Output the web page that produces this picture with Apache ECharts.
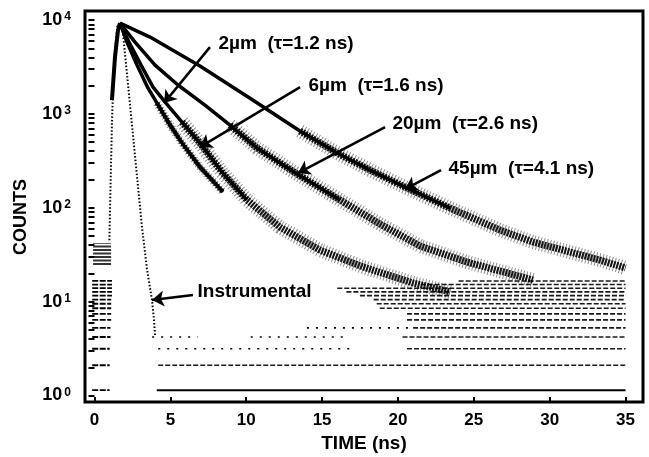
<!DOCTYPE html>
<html>
<head>
<meta charset="utf-8">
<script src="https://cdn.jsdelivr.net/npm/echarts@6.0.0/dist/echarts.min.js"></script>
<style>
html, body { margin: 0; padding: 0; background: #fff; }
#decay { width: 649px; height: 457px; }
</style>
</head>
<body>
<div id="decay"></div>
<script>
// values (time in ns, counts)
var t2um = [1.68, 2.14, 2.80, 3.53, 4.12, 4.98, 5.77, 6.95, 7.75, 8.47];
var c2um = [9270, 5820, 3310, 1880, 1300, 760, 489, 272, 197, 147];
var t6um = [1.68, 2.27, 3.07, 3.86, 4.71, 5.77, 6.95, 8.40, 10.05, 12.23, 14.86, 17.70, 21.00, 23.44];
var c6um = [9270, 5820, 3310, 1930, 1300, 818, 489, 240, 121, 62, 35.4, 23.4, 15.8, 12.7];
var t20um = [1.68, 2.67, 3.99, 5.50, 7.28, 8.93, 10.71, 13.35, 16.18, 18.82, 21.46, 24.55, 28.90];
var c20um = [9270, 5820, 3310, 2030, 1240, 760, 433, 229, 121, 67, 39.1, 26.4, 17.0];
var t45um = [1.68, 3.66, 6.95, 10.25, 13.54, 15.99, 18.16, 20.60, 23.44, 26.73, 28.90, 33.32, 35.00];
var c45um = [9270, 6580, 3230, 1470, 656, 383, 252, 162, 99, 57.8, 43.1, 27.7, 22.8];

var tInst = [0.98, 1.05, 1.15, 1.30, 1.50, 1.81, 2.34, 2.80, 3.13, 3.46, 3.79, 3.92, 3.99];
var cInst = [45, 150, 800, 4000, 8500, 9270, 1253, 218, 62.3, 22.2, 10.4, 6.4, 4.4];
var tRise = [1.15, 1.35, 1.55, 1.68];
var cRise = [1400, 4000, 7800, 9270];
var tPre = [0.5, 0.5];
var cPre = [24.5, 42];

// quantised count levels at the noise floor
var floorCounts = [1.14, 2.1, 3.15, 4.2, 5.25, 6.4, 7.4, 8.5, 9.5, 10.5, 11.6, 12.7, 13.9, 15.2, 16.6];
var floorLeftEnd = [1.0, 1.0, 1.0, 1.05, 1.05, 1.1, 1.1, 1.1, 1.1, 1.1, 1.15, 1.15, 1.15, 1.15, 1.15];
var floorRightStart = [4.1, 4.2, 20.6, 20.3, 21.0, 20.6, 20.6, 18.8, 18.6, 18.4, 17.5, 16.6, 16.0, 21.5, 24.0];
var sparseCount = [3.15, 4.2, 4.2, 5.25];
var sparseFrom = [4.2, 3.8, 10.3, 14.0];
var sparseTo = [17.0, 6.8, 16.6, 21.0];

var noteText = ['2\u00b5m  (\u03c4=1.2 ns)', '6\u00b5m  (\u03c4=1.6 ns)', '20\u00b5m  (\u03c4=2.6 ns)', '45\u00b5m  (\u03c4=4.1 ns)', 'Instrumental'];
var noteX = [8.14, 14.07, 19.6, 23.3, 6.76];
var noteY = [5540, 1977, 778, 261, 12.7];
var arrowFromX = [7.61, 13.55, 19.15, 22.84, 6.49];
var arrowFromY = [5140, 1929, 724, 252, 11.8];
var arrowToX = [4.58, 6.95, 13.41, 20.47, 3.79];
var arrowToY = [1303, 443, 234, 158, 10.4];

var timeTicks = [0, 5, 10, 15, 20, 25, 30, 35];
var countLabels = [1, 10, 100, 1000, 10000];

var FONT = 'Liberation Sans, Arial, Helvetica, sans-serif';
var INK = '#000';

function pairs(xs, ys) {
    return xs.map(function (x, i) { return [x, ys[i]]; });
}

var countTicks = [];
countLabels.forEach(function (m) {
    for (var k = 1; k <= 9; k++) {
        if (m * k <= 10000) countTicks.push(m * k);
    }
});

function note(i) {
    return {
        markLine: {
            silent: true,
            symbol: ['none', 'arrow'],
            symbolSize: 12,
            label: { show: false },
            lineStyle: { color: INK, width: 2.5, type: 'solid' },
            data: [[{ coord: [arrowFromX[i], arrowFromY[i]] }, { coord: [arrowToX[i], arrowToY[i]] }]]
        },
        markPoint: {
            silent: true,
            symbol: 'circle',
            symbolSize: 1,
            itemStyle: { color: 'rgba(0,0,0,0)' },
            label: {
                show: true, position: 'right', distance: 0, formatter: '{b}',
                color: INK, fontFamily: FONT, fontWeight: 'bold', fontSize: 19
            },
            data: [{ name: noteText[i], coord: [noteX[i], noteY[i]] }]
        }
    };
}

function lineSeries(data, style, extra) {
    var s = {
        type: 'line', data: data, symbol: 'none', silent: true,
        lineStyle: style, z: 2
    };
    if (extra) Object.keys(extra).forEach(function (k) { s[k] = extra[k]; });
    return s;
}

var series = [];

// pre-pulse cluster
series.push(lineSeries(pairs(tPre, cPre), { color: INK, width: 18, type: [2, 1.5], opacity: 0.8 }));

// noise floor levels
floorCounts.forEach(function (lv, i) {
    series.push(lineSeries([[-0.15, lv], [floorLeftEnd[i], lv]], { color: INK, width: 1.8, type: [6, 1.5] }));
    series.push(lineSeries([[floorRightStart[i], lv], [35, lv]],
        i === 0 ? { color: INK, width: 2 } : { color: INK, width: 1.6, type: [5, 2], opacity: 0.9 }));
});
sparseCount.forEach(function (lv, i) {
    series.push(lineSeries([[sparseFrom[i], lv], [sparseTo[i], lv]], { color: INK, width: 1.6, type: [2, 7] }));
});

// instrumental response
series.push(lineSeries(pairs(tInst, cInst), { color: INK, width: 2, type: [1.5, 2] }, note(4)));
series.push(lineSeries(pairs(tRise, cRise), { color: INK, width: 4 }));

// samples: noisy data band (sparse halo + denser core) and the fitted line
var samples = [
    { t: t2um, c: c2um, bandFrom: 4, fitTo: 9 },
    { t: t6um, c: c6um, bandFrom: 5, fitTo: 8 },
    { t: t20um, c: c20um, bandFrom: 5, fitTo: 8 },
    { t: t45um, c: c45um, bandFrom: 4, fitTo: 8 }
];
samples.forEach(function (s, i) {
    var pts = pairs(s.t, s.c);
    var band = pts.slice(s.bandFrom);
    series.push(lineSeries(band, { color: INK, width: i === 0 ? 8 : 14, type: [1, 2.2], opacity: 0.45 }));
    series.push(lineSeries(band, { color: INK, width: i === 0 ? 5 : 7, type: [2, 1], opacity: 0.9 }));
    series.push(lineSeries(pts.slice(0, s.fitTo + 1), { color: INK, width: 3.5 }, note(i)));
});

var decayChart = echarts.init(document.getElementById('decay'));
decayChart.setOption({
    animation: false,
    backgroundColor: '#fff',
    textStyle: { fontFamily: FONT },
    grid: {
        show: true, left: 85, right: 6, top: 11, bottom: 55,
        borderColor: INK, borderWidth: 3, backgroundColor: 'transparent',
        outerBoundsMode: 'none'
    },
    xAxis: {
        type: 'value', min: -0.626, max: 36.15,
        name: 'TIME (ns)', nameLocation: 'middle', nameGap: 32,
        nameTextStyle: { color: INK, fontFamily: FONT, fontWeight: 'bold', fontSize: 19 },
        axisLine: { show: false },
        splitLine: { show: false },
        axisTick: { show: true, inside: true, length: 5, customValues: timeTicks, lineStyle: { color: INK, width: 2 } },
        axisLabel: {
            customValues: timeTicks, margin: 10,
            color: INK, fontFamily: FONT, fontWeight: 'bold', fontSize: 17
        }
    },
    yAxis: {
        type: 'log', logBase: 10, min: 0.853, max: 12468,
        name: 'COUNTS', nameLocation: 'middle', nameGap: 55,
        nameTextStyle: { color: INK, fontFamily: FONT, fontWeight: 'bold', fontSize: 18, padding: [0, 21, 0, 0] },
        axisLine: { show: false },
        splitLine: { show: false },
        axisTick: { show: true, inside: false, length: 6, customValues: countTicks, lineStyle: { color: INK, width: 2 } },
        axisLabel: {
            customValues: countLabels, margin: 14,
            formatter: function (v) {
                return '{b|10}{s|' + Math.round(Math.log10(v)) + '}';
            },
            rich: {
                b: { fontFamily: FONT, fontWeight: 'bold', fontSize: 18, color: INK, lineHeight: 18, padding: [10, 0, 0, 0], verticalAlign: 'bottom' },
                s: { fontFamily: FONT, fontWeight: 'bold', fontSize: 12, color: INK, lineHeight: 12, padding: [0, 0, 0, 2], verticalAlign: 'top' }
            }
        }
    },
    series: series
});
</script>
</body>
</html>
